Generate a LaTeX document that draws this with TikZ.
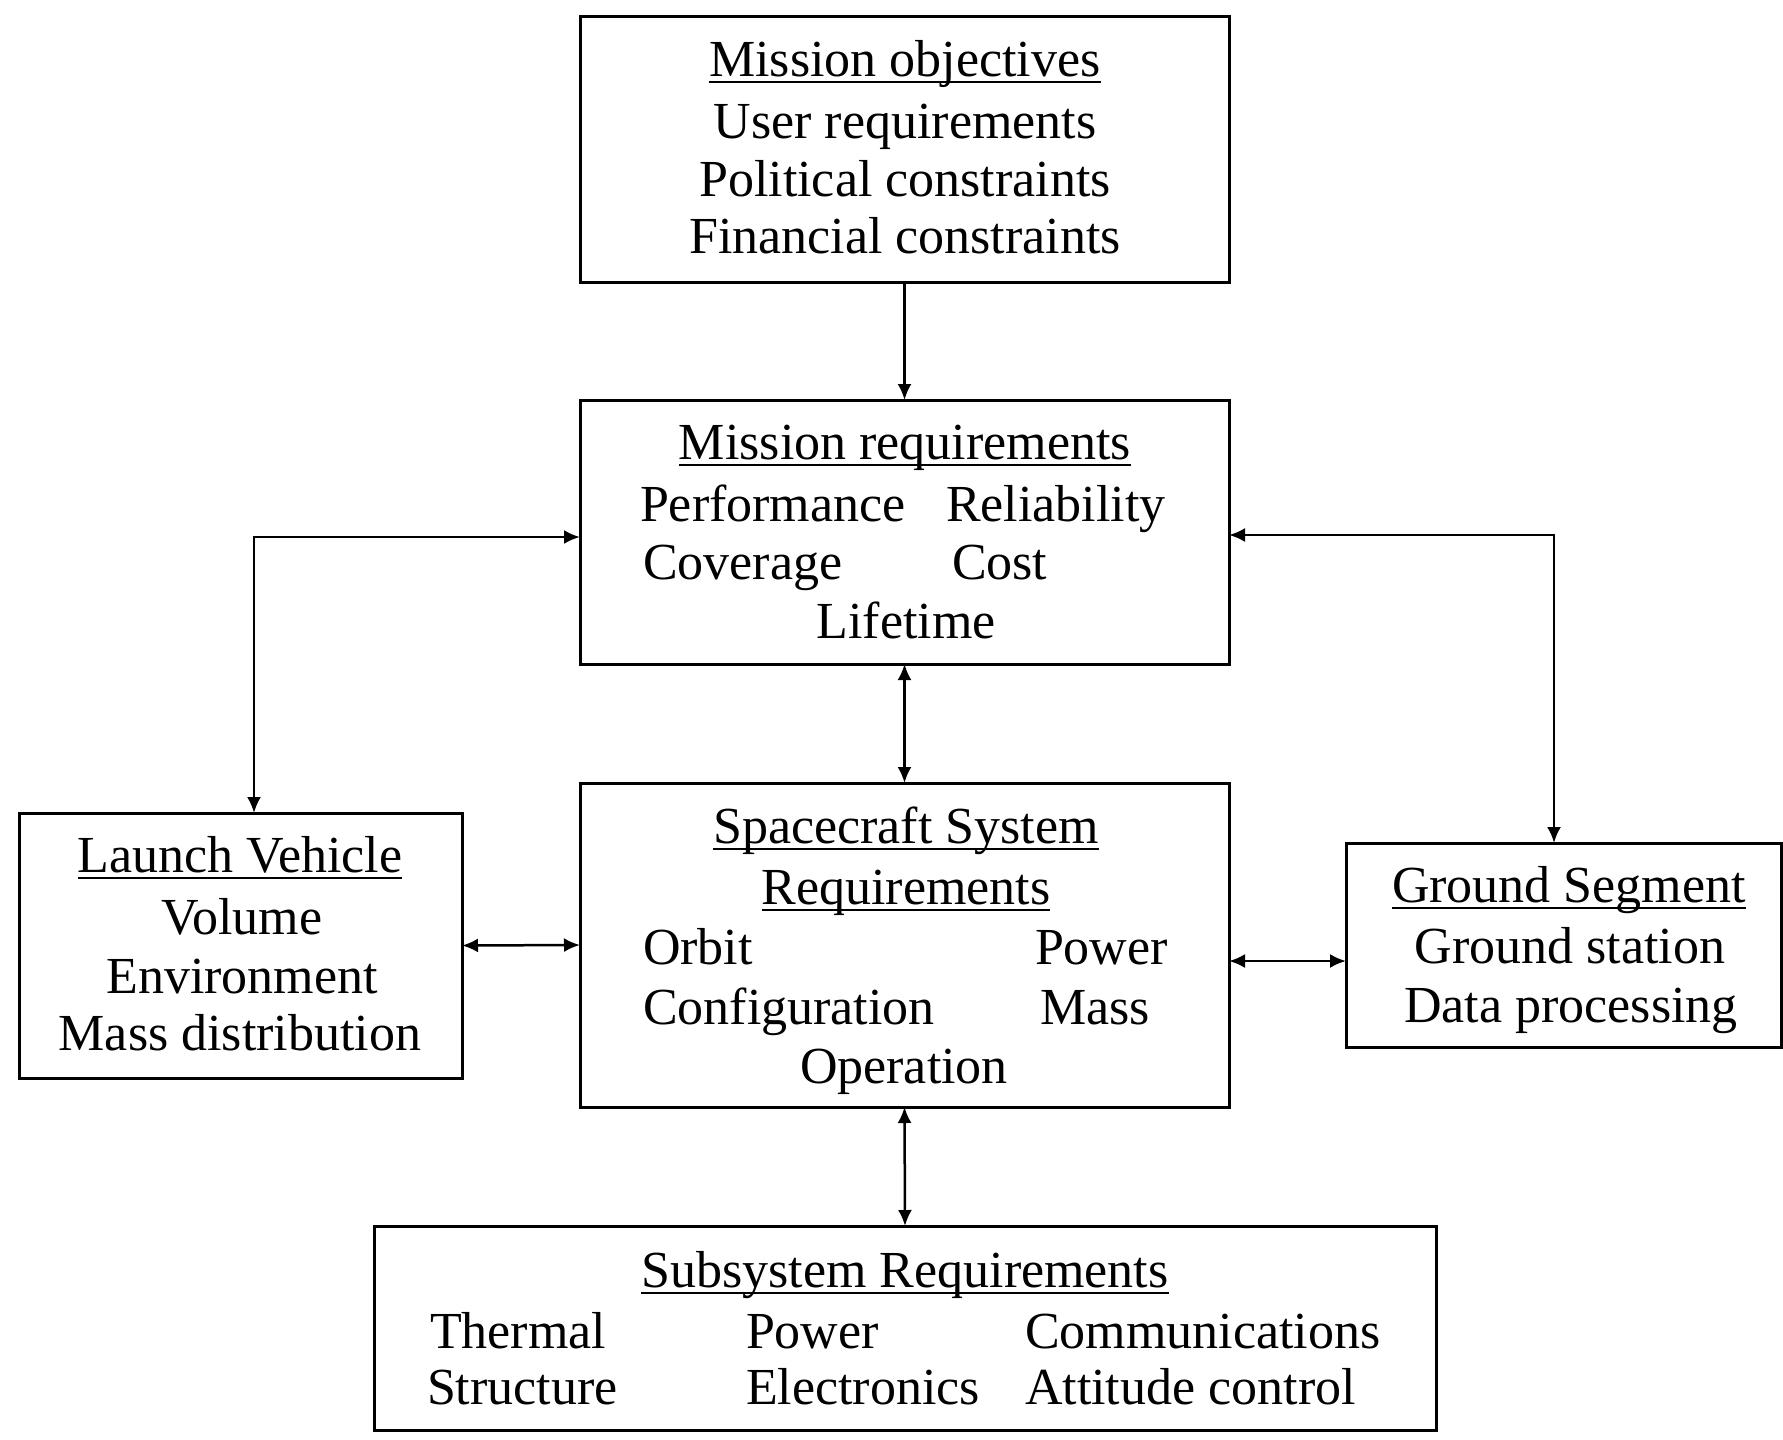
\documentclass[tikz,border=0pt]{standalone}
\usepackage{fontspec}
\setmainfont{Liberation Serif}
\usetikzlibrary{arrows.meta}
\begin{document}
\begin{tikzpicture}[x=1pt,y=-1pt,
  box/.style={draw=black, line width=3pt, rectangle, inner sep=0pt, outer sep=0pt},
  txt/.style={inner sep=0pt, outer sep=0pt, font=\fontsize{52}{58}\selectfont},
  uline/.style={line width=2.5pt},
  tip/.tip={Latex[length=16pt,width=14pt]},
  conn/.style={line width=2.5pt, -tip},
  dbl/.style={line width=2.5pt, tip-tip},
]
\useasboundingbox[fill=white] (0,0) rectangle (1783,1440);
% boxes
\node[box, minimum width=649pt, minimum height=266pt] (mo) at (904.5,149) {};
\node[box, minimum width=649pt, minimum height=264pt] (mr) at (904.5,532) {};
\node[box, minimum width=649pt, minimum height=324pt] (sc) at (904.5,945) {};
\node[box, minimum width=443pt, minimum height=265pt] (lv) at (240.5,945.5) {};
\node[box, minimum width=435pt, minimum height=204pt] (gs) at (1563.5,945) {};
\node[box, minimum width=1062pt, minimum height=204pt] (ss) at (905,1328) {};
% Mission objectives
\node[txt, anchor=base] (mot) at (905,76) {Mission objectives};
\node[txt, anchor=base] (mo2) at (905,138) {User requirements};
\node[txt, anchor=base] (mo3) at (905,196) {Political constraints};
\node[txt, anchor=base] (mo4) at (905,253) {Financial constraints};
% Mission requirements
\node[txt, anchor=base] (mrt) at (905,459) {Mission requirements};
\node[txt, anchor=base west] (mr1) at (640,521) {Performance};
\node[txt, anchor=base west] (mr2) at (946,521) {Reliability};
\node[txt, anchor=base west] (mr3) at (643,579) {Coverage};
\node[txt, anchor=base west] (mr4) at (952,579) {Cost};
\node[txt, anchor=base] (mr5) at (906,638) {Lifetime};
% Spacecraft system
\node[txt, anchor=base] (sct1) at (906,843) {Spacecraft System};
\node[txt, anchor=base] (sct2) at (906,904) {Requirements};
\node[txt, anchor=base west] (sc1) at (643,964) {Orbit};
\node[txt, anchor=base west] (sc2) at (1035,964) {Power};
\node[txt, anchor=base west] (sc3) at (643,1024) {Configuration};
\node[txt, anchor=base west] (sc4) at (1040,1024) {Mass};
\node[txt, anchor=base] (sc5) at (904,1083) {Operation};
% Launch vehicle
\node[txt, anchor=base] (lvt) at (240,872) {Launch Vehicle};
\node[txt, anchor=base] (lv2) at (242,934) {Volume};
\node[txt, anchor=base] (lv3) at (242,993) {Environment};
\node[txt, anchor=base] (lv4) at (240,1050) {Mass distribution};
% Ground segment
\node[txt, anchor=base] (gst) at (1569,902) {Ground Segment};
\node[txt, anchor=base] (gs2) at (1570,963) {Ground station};
\node[txt, anchor=base] (gs3) at (1571,1022) {Data processing};
% Subsystem
\node[txt, anchor=base] (sst) at (905,1287) {Subsystem Requirements};
\node[txt, anchor=base west] (ss1) at (430,1348) {Thermal};
\node[txt, anchor=base west] (ss2) at (746,1348) {Power};
\node[txt, anchor=base west] (ss3) at (1025,1348) {Communications};
\node[txt, anchor=base west] (ss4) at (427,1404) {Structure};
\node[txt, anchor=base west] (ss5) at (746,1404) {Electronics};
\node[txt, anchor=base west] (ss6) at (1025,1404) {Attitude control};
% underlines
\foreach \n in {mot,mrt,sct1,sct2,lvt,gst,sst}
  \draw[uline] ([yshift=-6pt]\n.base west) -- ([yshift=-6pt]\n.base east);
% connectors
\coordinate (lvc) at (254,537);
\coordinate (gsc) at (1554,535);
\coordinate (gsy) at (0,961);
\draw[conn] (mo.south) -- (mr.north);
\draw[dbl] (mr.south) -- (sc.north);
\draw[dbl] (sc.south) -- (ss.north);
\draw[dbl] (lv.east) -- (sc.west);
\draw[dbl] (sc.east |- gsy) -- (gs.west |- gsy);
\draw[dbl] (lvc |- lv.north) |- (mr.west |- lvc);
\draw[dbl] (mr.east |- gsc) -| (gsc |- gs.north);
\end{tikzpicture}
\end{document}
